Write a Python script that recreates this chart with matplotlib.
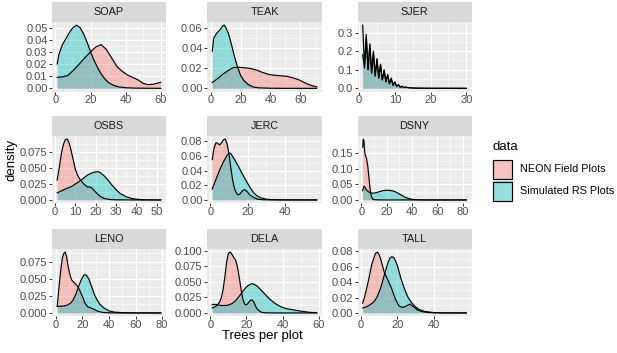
import matplotlib
matplotlib.use("Agg")
import matplotlib.pyplot as plt
from matplotlib.patches import Rectangle
from matplotlib.ticker import AutoMinorLocator

plt.rcParams['font.family'] = ['Liberation Sans', 'DejaVu Sans']

# ---- data (density of trees per plot) ----
panel_names = ["SOAP", "TEAK", "SJER", "OSBS", "JERC", "DSNY", "LENO", "DELA", "TALL"]
series_names = ["NEON Field Plots", "Simulated RS Plots"]

soap_neon_x = [1, 4, 7, 10, 13, 16, 20, 23, 26, 29, 32, 35, 38, 41, 44, 47, 50, 53, 56, 60]
soap_neon_y = [0.009, 0.0095, 0.0105, 0.0145, 0.019, 0.024, 0.030, 0.034, 0.036, 0.032, 0.025,
               0.018, 0.014, 0.011, 0.009, 0.007, 0.004, 0.003, 0.0035, 0.005]
soap_sim_x = [1, 2, 4, 6, 8, 10, 12, 14, 16, 18, 20, 22, 24, 26, 28, 30, 33, 36, 40, 45, 50, 60]
soap_sim_y = [0.020, 0.028, 0.036, 0.041, 0.046, 0.050, 0.052, 0.050, 0.045, 0.038, 0.030, 0.023,
              0.017, 0.012, 0.008, 0.005, 0.0025, 0.0012, 0.0005, 0.0002, 0.0001, 0.0]

teak_neon_x = [1, 4, 8, 12, 15, 19, 23, 27, 31, 35, 39, 43, 47, 51, 55, 59, 63, 67, 71]
teak_neon_y = [0.0057, 0.009, 0.014, 0.018, 0.0207, 0.021, 0.0205, 0.0197, 0.018, 0.0157, 0.0138,
               0.013, 0.0125, 0.012, 0.0105, 0.0085, 0.0055, 0.003, 0.0015]
teak_sim_x = [1, 2, 4, 6, 8, 9, 10, 12, 14, 16, 18, 20, 22, 25, 28, 32, 40, 50, 71]
teak_sim_y = [0.037, 0.050, 0.055, 0.058, 0.062, 0.063, 0.061, 0.054, 0.043, 0.031, 0.021, 0.013,
              0.008, 0.004, 0.0015, 0.0005, 0.0001, 0.0, 0.0]

sjer_neon_x = [1, 1.5, 2, 2.5, 3, 3.5, 4, 4.5, 5, 5.5, 6, 6.5, 7, 7.5, 8, 8.5, 9, 9.5, 10, 10.5,
               11, 11.5, 12, 12.5, 13, 14, 16, 20, 30]
sjer_neon_y = [0.34, 0.12, 0.29, 0.10, 0.24, 0.085, 0.20, 0.07, 0.16, 0.055, 0.13, 0.045, 0.10,
               0.035, 0.075, 0.025, 0.055, 0.017, 0.035, 0.01, 0.02, 0.006, 0.012, 0.004, 0.007,
               0.003, 0.001, 0.0003, 0.0]
sjer_sim_x = [1, 1.5, 2, 2.5, 3, 3.5, 4, 4.5, 5, 5.5, 6, 6.5, 7, 7.5, 8, 8.5, 9, 9.5, 10, 10.5,
              11, 11.5, 12, 12.5, 13, 14, 16, 20, 30]
sjer_sim_y = [0.18, 0.11, 0.27, 0.10, 0.23, 0.08, 0.19, 0.065, 0.155, 0.055, 0.125, 0.045, 0.095,
              0.035, 0.07, 0.025, 0.05, 0.016, 0.032, 0.01, 0.02, 0.006, 0.011, 0.004, 0.006,
              0.003, 0.001, 0.0003, 0.0]

osbs_neon_x = [1, 2, 3, 4, 5, 6, 7, 8, 9, 10, 11, 12, 14, 16, 17, 18, 20, 22, 24, 27, 30, 35, 40, 52]
osbs_neon_y = [0.031, 0.05, 0.071, 0.086, 0.094, 0.095, 0.088, 0.075, 0.061, 0.047, 0.039, 0.033,
               0.025, 0.020, 0.0205, 0.019, 0.012, 0.006, 0.0025, 0.0006, 0.0002, 0.0001, 0.0, 0.0]
osbs_sim_x = [1, 3, 5, 8, 10, 12, 14, 16, 18, 20, 21, 22, 24, 26, 28, 30, 32, 35, 38, 42, 46, 52]
osbs_sim_y = [0.011, 0.014, 0.017, 0.021, 0.025, 0.029, 0.034, 0.039, 0.042, 0.044, 0.044, 0.043,
              0.038, 0.031, 0.023, 0.016, 0.010, 0.005, 0.002, 0.0005, 0.0001, 0.0]

jerc_neon_x = [1, 2, 3, 4, 5, 6, 7, 8, 9, 10, 11, 12, 13, 14, 15, 16, 17, 18, 19, 20, 21, 23, 25,
               28, 32, 40, 57]
jerc_neon_y = [0.055, 0.071, 0.078, 0.077, 0.075, 0.078, 0.082, 0.083, 0.076, 0.062, 0.043, 0.026,
               0.015, 0.009, 0.0068, 0.0085, 0.012, 0.014, 0.013, 0.0105, 0.007, 0.0036, 0.0012,
               0.0003, 0.0001, 0.0, 0.0]
jerc_sim_x = [1, 3, 5, 7, 9, 10, 11, 13, 15, 17, 19, 21, 23, 25, 27, 30, 34, 40, 57]
jerc_sim_y = [0.015, 0.028, 0.041, 0.052, 0.061, 0.064, 0.063, 0.055, 0.046, 0.036, 0.027, 0.018,
              0.0105, 0.0055, 0.003, 0.001, 0.0003, 0.0001, 0.0]

dsny_neon_x = [1, 1.5, 2, 2.5, 3, 4, 5, 6, 7, 8, 9, 10, 12, 15, 20, 30, 83]
dsny_neon_y = [0.17, 0.196, 0.19, 0.16, 0.145, 0.135, 0.11, 0.07, 0.03, 0.01, 0.003, 0.001,
               0.0003, 0.0001, 0.0, 0.0, 0.0]
dsny_sim_x = [1, 2, 3, 4, 6, 8, 10, 13, 16, 19, 22, 25, 28, 31, 34, 37, 40, 45, 50, 60, 83]
dsny_sim_y = [0.03, 0.044, 0.04, 0.032, 0.025, 0.022, 0.022, 0.025, 0.029, 0.031, 0.031, 0.029,
              0.024, 0.017, 0.01, 0.005, 0.002, 0.0006, 0.0002, 0.0001, 0.0]

leno_neon_x = [1, 2, 3, 4, 5, 6, 7, 8, 9, 10, 11, 12, 14, 16, 18, 20, 22, 24, 26, 28, 31, 35, 40, 50, 79]
leno_neon_y = [0.0095, 0.03, 0.05, 0.068, 0.081, 0.087, 0.089, 0.083, 0.071, 0.061, 0.053, 0.048,
               0.044, 0.040, 0.033, 0.024, 0.014, 0.009, 0.0075, 0.006, 0.003, 0.0008, 0.0002,
               0.0, 0.0]
leno_sim_x = [1, 5, 8, 11, 13, 15, 17, 19, 21, 22, 23, 25, 27, 29, 31, 33, 36, 40, 44, 50, 60, 79]
leno_sim_y = [0.0095, 0.010, 0.011, 0.014, 0.019, 0.027, 0.038, 0.048, 0.055, 0.056, 0.055, 0.049,
              0.038, 0.027, 0.019, 0.013, 0.0075, 0.003, 0.0012, 0.0004, 0.0001, 0.0]

dela_neon_x = [1, 3, 5, 6, 7, 8, 9, 10, 11, 12, 13, 14, 15, 16, 17, 18, 19, 20, 21, 22, 23, 24,
               25, 26, 28, 30, 35, 59]
dela_neon_y = [0.008, 0.0105, 0.017, 0.024, 0.037, 0.058, 0.082, 0.096, 0.098, 0.094, 0.089, 0.085,
               0.074, 0.057, 0.038, 0.022, 0.014, 0.013, 0.016, 0.020, 0.021, 0.018, 0.011, 0.006,
               0.0015, 0.0003, 0.0, 0.0]
dela_sim_x = [1, 2, 4, 6, 9, 12, 14, 16, 18, 20, 22, 23, 24, 26, 28, 30, 33, 36, 39, 42, 45, 48,
              51, 55, 59]
dela_sim_y = [0.013, 0.014, 0.013, 0.012, 0.012, 0.015, 0.020, 0.027, 0.035, 0.042, 0.046, 0.047,
              0.0465, 0.043, 0.037, 0.031, 0.022, 0.015, 0.010, 0.007, 0.0055, 0.004, 0.0025,
              0.001, 0.0005]

tall_neon_x = [1, 2, 4, 6, 8, 9, 10, 11, 12, 13, 15, 17, 19, 21, 23, 25, 27, 29, 31, 34, 38, 45, 58]
tall_neon_y = [0.0127, 0.02, 0.04, 0.063, 0.077, 0.079, 0.076, 0.069, 0.060, 0.052, 0.042, 0.031,
               0.018, 0.009, 0.0072, 0.009, 0.0115, 0.008, 0.004, 0.0015, 0.0004, 0.0001, 0.0]
tall_sim_x = [1, 3, 5, 7, 9, 11, 13, 15, 16, 17, 18, 19, 20, 22, 24, 26, 28, 30, 32, 35, 40, 45, 58]
tall_sim_y = [0.0064, 0.008, 0.0105, 0.014, 0.021, 0.033, 0.050, 0.066, 0.071, 0.073, 0.072,
              0.068, 0.062, 0.045, 0.031, 0.020, 0.013, 0.008, 0.0045, 0.002, 0.0005, 0.0001, 0.0]

# tick breaks / labels per panel
soap_xticks = [0, 20, 40, 60]
soap_yticks = ["0.00", "0.01", "0.02", "0.03", "0.04", "0.05"]
teak_xticks = [0, 20, 40, 60]
teak_yticks = ["0.00", "0.02", "0.04", "0.06"]
sjer_xticks = [0, 10, 20, 30]
sjer_yticks = ["0.0", "0.1", "0.2", "0.3"]
osbs_xticks = [0, 10, 20, 30, 40, 50]
osbs_yticks = ["0.000", "0.025", "0.050", "0.075"]
jerc_xticks = [0, 20, 40]
jerc_yticks = ["0.00", "0.02", "0.04", "0.06", "0.08"]
dsny_xticks = [0, 20, 40, 60, 80]
dsny_yticks = ["0.00", "0.05", "0.10", "0.15"]
leno_xticks = [0, 20, 40, 60, 80]
leno_yticks = ["0.000", "0.025", "0.050", "0.075"]
dela_xticks = [0, 20, 40, 60]
dela_yticks = ["0.000", "0.025", "0.050", "0.075", "0.100"]
tall_xticks = [0, 20, 40]
tall_yticks = ["0.00", "0.02", "0.04", "0.06", "0.08"]

panels = [
    (soap_neon_x, soap_neon_y, soap_sim_x, soap_sim_y, soap_xticks, soap_yticks),
    (teak_neon_x, teak_neon_y, teak_sim_x, teak_sim_y, teak_xticks, teak_yticks),
    (sjer_neon_x, sjer_neon_y, sjer_sim_x, sjer_sim_y, sjer_xticks, sjer_yticks),
    (osbs_neon_x, osbs_neon_y, osbs_sim_x, osbs_sim_y, osbs_xticks, osbs_yticks),
    (jerc_neon_x, jerc_neon_y, jerc_sim_x, jerc_sim_y, jerc_xticks, jerc_yticks),
    (dsny_neon_x, dsny_neon_y, dsny_sim_x, dsny_sim_y, dsny_xticks, dsny_yticks),
    (leno_neon_x, leno_neon_y, leno_sim_x, leno_sim_y, leno_xticks, leno_yticks),
    (dela_neon_x, dela_neon_y, dela_sim_x, dela_sim_y, dela_xticks, dela_yticks),
    (tall_neon_x, tall_neon_y, tall_sim_x, tall_sim_y, tall_xticks, tall_yticks),
]

# ---- layout (pixels) ----
W, H = 617, 353
fill_cols = ["#F8766D", "#00BFC4"]
alpha = 0.38
col_left = [52, 207, 357.5]
col_right = [166, 322, 471.5]
row_top = [22, 136, 249]
row_bottom = [91.5, 203, 316]
strip_h = 20
tick_fs = 8.0
small_fs = 7.8
title_fs = 9.5


def frac(l, t, r, b):
    return [l / W, 1 - b / H, (r - l) / W, (b - t) / H]


fig = plt.figure(figsize=(W / 100, H / 100), dpi=100)

for i, (nx, ny, sx, sy, xt, yt) in enumerate(panels):
    r, c = divmod(i, 3)
    l, rt = col_left[c], col_right[c]
    t, b = row_top[r], row_bottom[r]
    ax = fig.add_axes(frac(l, t, rt, b))
    ax.set_facecolor("#EBEBEB")
    for (x, y), col in zip([(nx, ny), (sx, sy)], fill_cols):
        ax.fill_between(x, y, 0, color=col, alpha=alpha, lw=0)
        ax.plot(x, y, color="black", lw=0.85)
    ax.margins(x=0.05, y=0.05)
    ax.set_xticks(xt)
    ax.set_xticklabels([str(v) for v in xt])
    ax.set_yticks([float(v) for v in yt])
    ax.set_yticklabels(yt)
    ax.xaxis.set_minor_locator(AutoMinorLocator(2))
    ax.yaxis.set_minor_locator(AutoMinorLocator(2))
    ax.grid(which="major", color="white", lw=0.8)
    ax.grid(which="minor", color="white", lw=0.4)
    ax.set_axisbelow(True)
    for s in ax.spines.values():
        s.set_visible(False)
    ax.tick_params(which="major", length=2.2, width=0.7, color="#333333",
                   labelsize=tick_fs, labelcolor="#4D4D4D")
    ax.tick_params(axis="x", which="major", pad=0.5)
    ax.tick_params(axis="y", which="major", pad=1.0)
    ax.tick_params(which="minor", length=0)

    sax = fig.add_axes(frac(l, t - strip_h, rt, t))
    sax.set_facecolor("#D9D9D9")
    sax.set_xticks([])
    sax.set_yticks([])
    for s in sax.spines.values():
        s.set_visible(False)
    sax.text(0.5, 0.5, panel_names[i], ha="center", va="center",
             fontsize=small_fs, color="#1A1A1A", transform=sax.transAxes)

# axis titles
fig.text(11.5 / W, 1 - 160 / H, "density", rotation=90, ha="center", va="center",
         fontsize=title_fs, color="black")
fig.text(262 / W, 1 - 339.5 / H, "Trees per plot", ha="center", va="baseline",
         fontsize=title_fs, color="black")

# legend
fig.text(492.5 / W, 1 - 146.5 / H, "data", ha="left", va="center", fontsize=title_fs)
key_tops = [159.5, 181]
for kt, col, name in zip(key_tops, fill_cols, series_names):
    fig.add_artist(Rectangle((492.5 / W, 1 - (kt + 20) / H), 20 / W, 20 / H,
                             transform=fig.transFigure, facecolor="#F2F2F2", lw=0))
    fig.add_artist(Rectangle((492.5 / W, 1 - (kt + 20) / H), 20 / W, 20 / H,
                             transform=fig.transFigure, facecolor=col, alpha=alpha, lw=0))
    fig.add_artist(Rectangle((493 / W, 1 - (kt + 19.5) / H), 19 / W, 19 / H,
                             transform=fig.transFigure, facecolor="none",
                             edgecolor="black", lw=0.85))
    fig.text(520.5 / W, 1 - (kt + 10) / H, name, ha="left", va="center",
             fontsize=small_fs, color="black")

fig.savefig("out.png", dpi=100)
